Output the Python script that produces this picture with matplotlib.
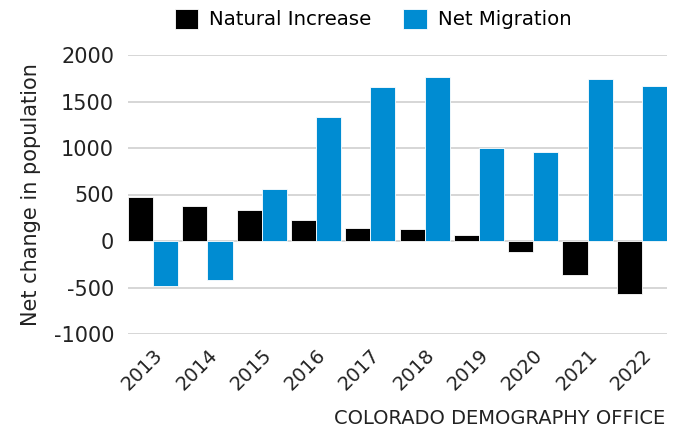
import numpy as np
import matplotlib
matplotlib.use("Agg")
import matplotlib.pyplot as plt

############################
years = ['2013', '2014', '2015', '2016', '2017', '2018', '2019', '2020', '2021', '2022']
natural_increase = [472, 376, 333, 229, 136, 129, 61, -114, -369, -565]
net_migration = [-487, -422, 562, 1335, 1657, 1764, 998, 955, 1739, 1664]
yticks = [-1000, -500, 0, 500, 1000, 1500, 2000]
############################

plt.rcParams['font.family'] = ['DejaVu Sans']

fig = plt.figure(figsize=(6.78, 4.33), dpi=100)
ax = fig.add_axes([128 / 678, (433 - 334) / 433, (667 - 128) / 678, (334 - 55) / 433])

x = np.arange(len(years))
w = 0.463
ax.bar(x - w / 2, natural_increase, w, color='black', label='Natural Increase',
       edgecolor='white', linewidth=0.6, zorder=3)
ax.bar(x + w / 2, net_migration, w, color='#008cd2', label='Net Migration',
       edgecolor='white', linewidth=0.6, zorder=3)

ax.set_xlim(-w, len(years) - 1 + w)
ax.set_ylim(-1000, 2000)
ax.set_yticks(yticks)
ax.set_yticklabels([str(v) for v in yticks], fontsize=15, color='#222222')
ax.set_xticks(x)
ax.set_xticklabels(years, rotation=45, ha='right', rotation_mode='anchor',
                   fontsize=14, color='#222222')
ax.tick_params(length=0, pad=10)
ax.tick_params(axis='x', pad=8)
ax.grid(axis='y', color='#d0d0d0', linewidth=1.2, zorder=0)
for s in ax.spines.values():
    s.set_visible(False)

ax.set_ylabel('Net change in population', fontsize=15, color='#222222', labelpad=9)

fig.legend(loc='center', bbox_to_anchor=(373 / 678, 1 - 19 / 433), ncol=2, frameon=False,
           fontsize=14.2, handlelength=1.2, handleheight=1.2, columnspacing=1.6,
           handletextpad=0.55, borderpad=0)

fig.text(665 / 678, 1 - 418 / 433, 'COLORADO DEMOGRAPHY OFFICE', ha='right',
         va='center', fontsize=14, color='#222222')

fig.savefig('out.png', dpi=100)
